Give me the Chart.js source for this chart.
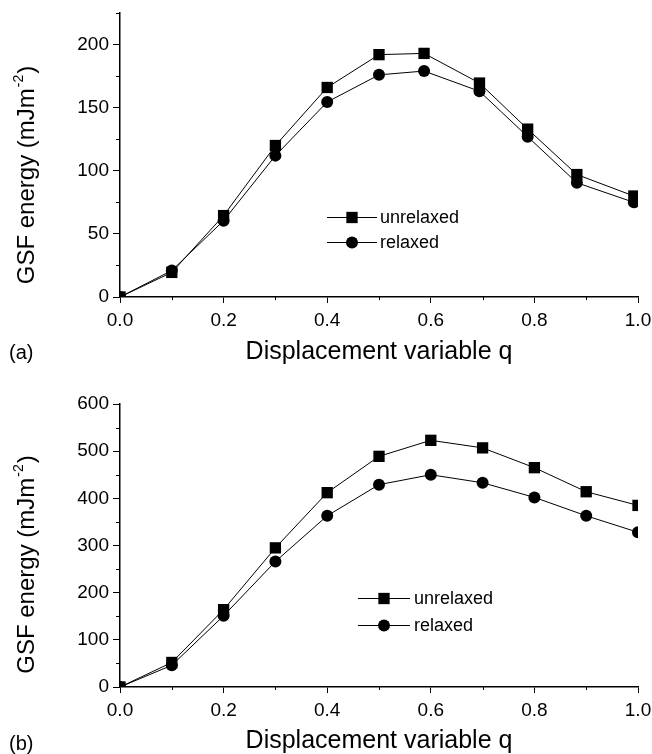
<!DOCTYPE html>
<html><head><meta charset="utf-8">
<script src="https://cdn.jsdelivr.net/npm/chart.js@4.4.1/dist/chart.umd.min.js"></script>
<style>
html,body{margin:0;padding:0;background:#fff;}
#wrap{position:relative;width:652px;height:754px;overflow:hidden;font-family:"Liberation Sans",Arial,Helvetica,sans-serif;}
.box{position:absolute;left:0;width:652px;}
#boxA{top:0;height:375px;}
#boxB{top:375px;height:379px;}
.panel{position:absolute;left:9px;font-size:20px;line-height:24px;color:#000;}
#labA{top:340px;} #labB{top:731px;}
</style></head><body>
<div id="wrap">
<div class="box" id="boxA"><canvas id="chartA"></canvas></div>
<div class="box" id="boxB"><canvas id="chartB"></canvas></div>
<div class="panel" id="labA">(a)</div>
<div class="panel" id="labB">(b)</div>
</div>
<script>
// ---- data ----
const seriesNames = ['unrelaxed', 'relaxed'];
const qA = [0, 0.1, 0.2, 0.3, 0.4, 0.5, 0.587, 0.694, 0.787, 0.882, 0.992];
const unrelaxedA = [0, 19.5, 64.5, 120, 166, 192, 193, 169.5, 133, 97, 80];
const relaxedA = [0, 21, 60.5, 112, 154.5, 176, 179, 163, 127, 90.5, 75];
const qB = [0, 0.1, 0.2, 0.3, 0.4, 0.5, 0.6, 0.7, 0.8, 0.9, 1.0];
const unrelaxedB = [0, 52, 164, 295, 412, 489, 523, 507, 465, 414, 385];
const relaxedB = [0, 46, 151, 266, 363, 429, 450, 433, 402, 363, 328];
const xTickValues = [0, 0.2, 0.4, 0.6, 0.8, 1.0];
const xTickLabels = ['0.0', '0.2', '0.4', '0.6', '0.8', '1.0'];
const xMinorTicks = [0.1, 0.3, 0.5, 0.7, 0.9];
const yTickValuesA = [0, 50, 100, 150, 200];
const yTickLabelsA = ['0', '50', '100', '150', '200'];
const yMinorTicksA = [25, 75, 125, 175, 225];
const yTickValuesB = [0, 100, 200, 300, 400, 500, 600];
const yTickLabelsB = ['0', '100', '200', '300', '400', '500', '600'];
const yMinorTicksB = [50, 150, 250, 350, 450, 550];
const xTitle = 'Displacement variable q';
const yTitleParts = ['GSF energy (mJm', '-2', ')'];

const FONT = '"Liberation Sans", Arial, Helvetica, sans-serif';

const decor = {
  id: 'decor',
  afterDraw(chart, args, o) {
    const ctx = chart.ctx, xs = chart.scales.x, ys = chart.scales.y, ca = chart.chartArea;
    ctx.save();
    ctx.strokeStyle = '#000';
    ctx.fillStyle = '#000';
    ctx.lineWidth = 1;
    // minor ticks
    o.xMinor.forEach(v => {
      const px = Math.round(xs.getPixelForValue(v)) + 0.5;
      ctx.beginPath(); ctx.moveTo(px, ca.bottom); ctx.lineTo(px, ca.bottom + o.minorLen); ctx.stroke();
    });
    o.yMinor.forEach(v => {
      const py = Math.round(ys.getPixelForValue(v)) + 0.5;
      ctx.beginPath(); ctx.moveTo(ca.left, py); ctx.lineTo(ca.left - o.minorLen - 1, py); ctx.stroke();
    });
    // y title with superscript
    const size = o.titleSize;
    const big = size + 'px ' + FONT, small = Math.round(size * 0.6) + 'px ' + FONT;
    ctx.save();
    ctx.translate(o.yTitleX, (ca.top + ca.bottom) / 2 + o.yTitleDy);
    ctx.rotate(-Math.PI / 2);
    ctx.textAlign = 'left'; ctx.textBaseline = 'alphabetic';
    ctx.font = big; const w1 = ctx.measureText(yTitleParts[0]).width;
    ctx.font = small; const w2 = ctx.measureText(yTitleParts[1]).width;
    ctx.font = big; const w3 = ctx.measureText(yTitleParts[2]).width;
    let x = -(w1 + w2 + w3) / 2; const base = size * 0.25;
    ctx.fillText(yTitleParts[0], x, base); x += w1;
    ctx.font = small; ctx.fillText(yTitleParts[1], x + 1, base - size * 0.45); x += w2 + 2;
    ctx.font = big; ctx.fillText(yTitleParts[2], x, base);
    ctx.restore();
    // legend
    const L = o.legend;
    ctx.font = L.size + 'px ' + FONT;
    ctx.textAlign = 'left'; ctx.textBaseline = 'middle';
    chart.data.datasets.forEach((ds, i) => {
      const y = Math.round(ca.top + L.top + i * L.rowGap) + 0.5;
      const x0 = ca.left + L.left;
      ctx.lineWidth = 1;
      ctx.beginPath(); ctx.moveTo(x0, y); ctx.lineTo(x0 + L.lineLen, y); ctx.stroke();
      Chart.helpers.drawPoint(ctx, {pointStyle: ds.pointStyle, radius: ds.pointRadius, rotation: 0, borderWidth: 0}, x0 + L.lineLen / 2, y);
      ctx.fillText(ds.label, x0 + L.lineLen + L.gap, y + 1);
    });
    ctx.restore();
  }
};

function makeChart(id, q, u, r, yMax, yVals, yLabs, yMinor, padTop, xHeight, titlePad, legend, yTitleDy) {
  const ctx = document.getElementById(id);
  return new Chart(ctx, {
    type: 'line',
    data: {
      datasets: [
        {label: seriesNames[0], data: q.map((v, i) => ({x: v, y: u[i]})), borderColor: '#000', backgroundColor: '#000',
         borderWidth: 1, pointStyle: 'rect', pointRadius: 8, pointBorderWidth: 0, pointHoverRadius: 8, tension: 0},
        {label: seriesNames[1], data: q.map((v, i) => ({x: v, y: r[i]})), borderColor: '#000', backgroundColor: '#000',
         borderWidth: 1, pointStyle: 'circle', pointRadius: 6, pointBorderWidth: 0, pointHoverRadius: 6, tension: 0}
      ]
    },
    options: {
      responsive: true, maintainAspectRatio: false, animation: false, devicePixelRatio: 1,
      layout: {padding: {left: 0, right: 14, top: padTop, bottom: 0}},
      plugins: {
        legend: {display: false}, tooltip: {enabled: false},
        decor: {xMinor: xMinorTicks, yMinor: yMinor, minorLen: 3, titleSize: 24, yTitleX: 28, yTitleDy: yTitleDy, legend: legend}
      },
      scales: {
        x: {
          type: 'linear', min: 0, max: 1,
          afterBuildTicks: s => { s.ticks = xTickValues.map(v => ({value: v})); },
          afterFit: s => { s.height = xHeight; s.paddingLeft = 0; s.paddingRight = 0; },
          ticks: {color: '#000', font: {family: FONT, size: 19}, padding: 6, maxRotation: 0, autoSkip: false,
                  callback: (v, i) => xTickLabels[i]},
          grid: {display: true, drawOnChartArea: false, drawTicks: true, tickLength: 6, tickColor: '#000', tickWidth: 1, color: '#000'},
          border: {display: true, color: '#000', width: 1.5},
          title: {display: true, text: xTitle, color: '#000', font: {family: FONT, size: 25, lineHeight: 1}, padding: {top: 0, bottom: titlePad}}
        },
        y: {
          type: 'linear', min: 0, max: yMax,
          afterBuildTicks: s => { s.ticks = yVals.map(v => ({value: v})); },
          afterFit: s => { s.width = 120; s.paddingTop = 0; s.paddingBottom = 0; },
          ticks: {color: '#000', font: {family: FONT, size: 19}, padding: 4, autoSkip: false,
                  callback: (v, i) => yLabs[i]},
          grid: {display: true, drawOnChartArea: false, drawTicks: true, tickLength: 7, tickColor: '#000', tickWidth: 1, color: '#000'},
          border: {display: true, color: '#000', width: 1.5},
          title: {display: false}
        }
      }
    },
    plugins: [decor]
  });
}

makeChart('chartA', qA, unrelaxedA, relaxedA, 225, yTickValuesA, yTickLabelsA, yMinorTicksA, 13, 78, 10,
  {left: 207, top: 204, rowGap: 25, lineLen: 50, gap: 3, size: 18}, 21);
makeChart('chartB', qB, unrelaxedB, relaxedB, 600, yTickValuesB, yTickLabelsB, yMinorTicksB, 29, 67, 0,
  {left: 238, top: 194, rowGap: 27, lineLen: 52, gap: 4, size: 18}, 20);
</script>
</body></html>
